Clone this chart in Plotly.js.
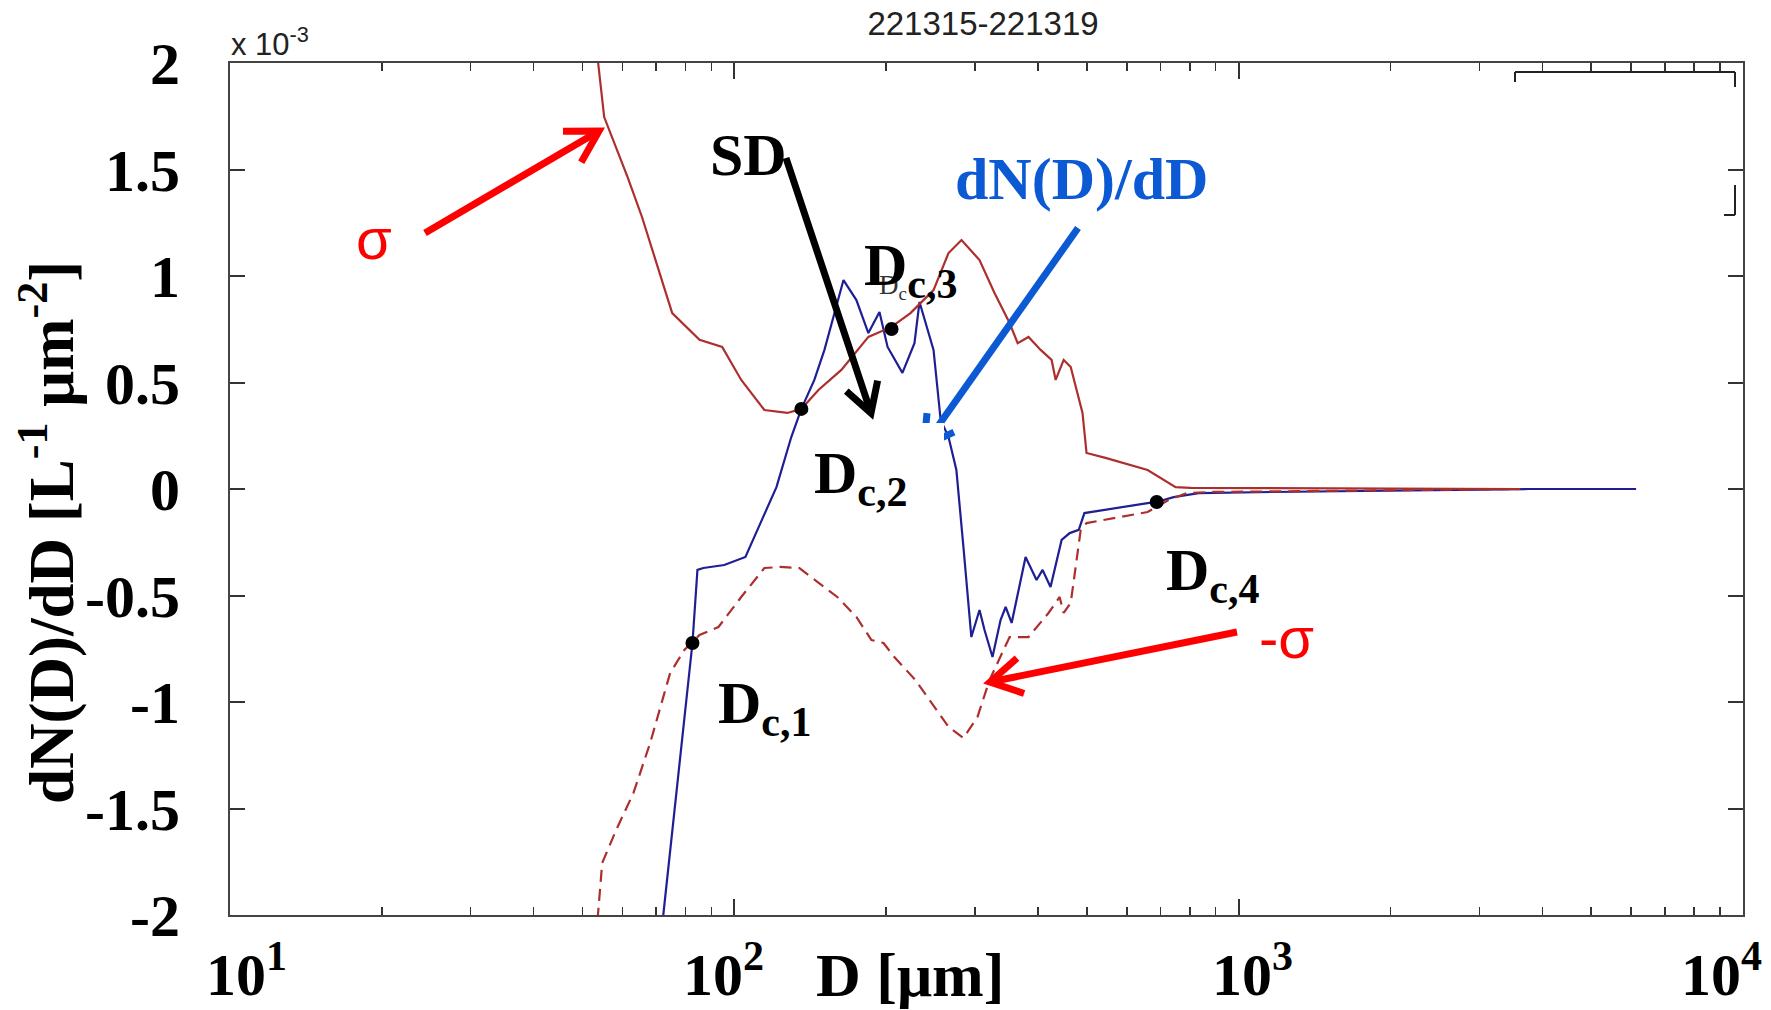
<!DOCTYPE html>
<html><head><meta charset="utf-8">
<script src="https://cdn.plot.ly/plotly-3.0.1.min.js"></script>
<style>html,body{margin:0;padding:0;background:#fff;}#chart{width:1771px;height:1010px;}</style>
</head><body><div id="chart"></div>
<script>
// ---- data (y values in units of 1e-3 L^-1 um^-2, D in um) ----
const sigmaD = [52.2, 53.7, 55.2, 61.4, 65.6, 75.3, 85.3, 94.6, 103.2, 114.7, 127.4, 135.8, 146.8, 163.0, 184.4, 204.9, 223.5, 248.3, 265.9, 282.1, 306.3, 328.0, 351.4, 364.6, 383.1, 404.9, 425.7, 433.6, 449.8, 464.5, 490.2, 499.3, 544.4, 659.9, 749.8, 803.5, 3614];
const sigmaVal = [2.3, 2.0, 1.746, 1.465, 1.277, 0.826, 0.700, 0.667, 0.512, 0.371, 0.357, 0.376, 0.465, 0.559, 0.714, 0.761, 0.826, 0.934, 1.108, 1.169, 1.075, 0.920, 0.779, 0.685, 0.714, 0.653, 0.606, 0.512, 0.606, 0.573, 0.357, 0.169, 0.146, 0.089, 0.009, 0.005, 0];

const negSigmaD = [52.8, 53.7, 54.7, 58.3, 63.1, 68.1, 74.6, 79.6, 85.3, 93.0, 103.2, 114.7, 123.4, 134.6, 146.8, 160.0, 174.6, 187.0, 197.6, 207.6, 228.6, 245.9, 265.9, 284.6, 303.5, 320.6, 351.4, 383.1, 419.7, 441.6, 449.8, 464.5, 486.2, 499.3, 659.9, 726.0, 788.6, 883.6, 3614];
const negSigmaVal = [-2.2, -1.991, -1.756, -1.601, -1.427, -1.192, -0.864, -0.756, -0.685, -0.648, -0.507, -0.371, -0.366, -0.371, -0.441, -0.507, -0.601, -0.709, -0.723, -0.789, -0.897, -1.005, -1.117, -1.169, -1.070, -0.897, -0.695, -0.695, -0.582, -0.507, -0.582, -0.535, -0.192, -0.160, -0.108, -0.052, -0.019, -0.014, 0];

const dndD = [70.6, 72.3, 82.6, 84.5, 86.8, 95.5, 105.2, 111.1, 121.2, 129.7, 135.8, 144.1, 150.9, 164.6, 174.6, 184.4, 194.0, 201.3, 215.4, 227.6, 232.9, 248.3, 256.5, 265.9, 275.6, 284.6, 295.1, 306.3, 313.4, 325.0, 337.2, 345.1, 354.7, 378.0, 397.4, 408.5, 423.6, 445.6, 462.4, 481.9, 494.5, 659.9, 687.8, 743.0, 833.1, 1163, 3757, 6138];
const dndVal = [-2.2, -2.0, -0.723, -0.380, -0.371, -0.357, -0.319, -0.192, 0.009, 0.244, 0.376, 0.512, 0.653, 0.981, 0.887, 0.732, 0.831, 0.667, 0.545, 0.685, 0.878, 0.653, 0.324, 0.244, 0.089, -0.272, -0.695, -0.568, -0.662, -0.789, -0.615, -0.554, -0.629, -0.319, -0.427, -0.380, -0.460, -0.239, -0.207, -0.192, -0.113, -0.066, -0.061, -0.038, -0.019, -0.014, 0, 0];

const dcD = [82.6, 135.8, 205, 687.8];
const dcVal = [-0.723, 0.376, 0.751, -0.061];
const dcNames = ["D<sub>c,1</sub>", "D<sub>c,2</sub>", "D<sub>c,3</sub>", "D<sub>c,4</sub>"];

const xTickVals = [10, 100, 1000, 10000];
const xTickText = ["10<sup>1</sup>", "10<sup>2</sup>", "10<sup>3</sup>", "10<sup>4</sup>"];
const yTickVals = [-2, -1.5, -1, -0.5, 0, 0.5, 1, 1.5, 2];
const yTickText = ["-2", "-1.5", "-1", "-0.5", "0", "0.5", "1", "1.5", "2"];

const titleText = "221315-221319";
const xTitle = "D [μm]";
const yTitle = "dN(D)/dD [L<sup>-1</sup> μm<sup>-2</sup>]";

// ---- layout geometry ----
const W = 1771, H = 1010, ML = 230, MR = 28, MT = 63, MB = 95;
const PW = W - ML - MR, PH = H - MT - MB;
const px = x => (x - ML) / PW;
const py = y => (H - MB - y) / PH;

const SERIF = "Liberation Serif, Times New Roman, serif";
const SANS = "Liberation Sans, Arial, sans-serif";
const SIGCOL = "#ad2f2d";
const BLUE = "#1f1f94";
const ABLUE = "#0b5ad4";

function arrow(x1, y1, x2, y2, color, width, head) {
  const dx = x2 - x1, dy = y2 - y1, len = Math.hypot(dx, dy);
  const bx = -dx / len, by = -dy / len, a = Math.PI / 6;
  const pts = [1, -1].map(s => {
    const c = Math.cos(a), sn = Math.sin(a) * s;
    return [x2 + (bx * c - by * sn) * head, y2 + (bx * sn + by * c) * head];
  });
  return [
    {type: 'line', xref: 'paper', yref: 'paper', x0: px(x1), y0: py(y1), x1: px(x2), y1: py(y2), line: {color, width}, layer: 'above'},
    {type: 'path', xref: 'paper', yref: 'paper', layer: 'above', line: {color, width},
     path: `M${px(pts[0][0])},${py(pts[0][1])}L${px(x2)},${py(y2)}L${px(pts[1][0])},${py(pts[1][1])}`}
  ];
}
function seg(x1, y1, x2, y2) {
  return {type: 'line', xref: 'paper', yref: 'paper', x0: px(x1), y0: py(y1), x1: px(x2), y1: py(y2), line: {color: '#222', width: 2}, layer: 'above'};
}

const minorVals = [];
[10, 100, 1000].forEach(d => { for (let k = 2; k <= 9; k++) minorVals.push(k * d); });

const traces = [
  {x: dndD, y: dndVal, type: 'scatter', mode: 'lines', name: 'dN(D)/dD', line: {color: BLUE, width: 2.2}},
  {x: negSigmaD, y: negSigmaVal, type: 'scatter', mode: 'lines', name: '-σ', line: {color: SIGCOL, width: 2.2, dash: '12px,7px'}},
  {x: sigmaD, y: sigmaVal, type: 'scatter', mode: 'lines', name: 'σ', line: {color: SIGCOL, width: 2.2}},
  {x: dcD, y: dcVal, type: 'scatter', mode: 'markers', name: 'Dc', marker: {color: '#000', size: 14}}
];

const shapes = [].concat(
  arrow(425, 233, 599, 131, '#ff0000', 7, 36),
  arrow(786, 158, 871, 413, '#000000', 7, 33),
  arrow(1078, 228, 924, 446, ABLUE, 7, 33),
  arrow(1237, 632, 990, 682, '#ff0000', 7, 36),
  [{type: 'rect', xref: 'paper', yref: 'paper', x0: px(801), x1: px(944), y0: py(423), y1: py(547), fillcolor: '#fff', line: {width: 0}, layer: 'above'}],
  [seg(1515, 72, 1735, 72), seg(1515, 72, 1515, 82), seg(1735, 72, 1735, 87), seg(1735, 185, 1735, 215), seg(1724, 215, 1735, 215)]
);

const big = {family: SERIF, size: 60, color: '#000', weight: 'bold'};
const xShift = [16, -11, 14, -22];
const annotations = [
  {text: yTitle, textangle: -90, xref: 'paper', yref: 'paper', x: px(47), y: py(533), xanchor: 'center', yanchor: 'middle', showarrow: false, font: {family: SERIF, size: 63, color: '#000', weight: 'bold'}},
  {text: xTitle, xref: 'paper', yref: 'paper', x: px(910), y: py(975), xanchor: 'center', yanchor: 'middle', showarrow: false, font: {family: SERIF, size: 62, color: '#000', weight: 'bold'}},
  {text: 'x 10<sup>-3</sup>', xref: 'paper', yref: 'paper', x: px(229), y: py(64), xanchor: 'left', yanchor: 'bottom', showarrow: false, font: {family: SANS, size: 31, color: '#222'}},
  {text: 'SD', xref: 'paper', yref: 'paper', x: px(748), y: py(155), xanchor: 'center', yanchor: 'middle', showarrow: false, font: big},
  {text: 'dN(D)/dD', xref: 'paper', yref: 'paper', x: px(1081), y: py(179), xanchor: 'center', yanchor: 'middle', showarrow: false, font: {family: SERIF, size: 60, color: ABLUE, weight: 'bold'}},
  {text: 'σ', xref: 'paper', yref: 'paper', x: px(374), y: py(238), xanchor: 'center', yanchor: 'middle', showarrow: false, font: {family: SANS, size: 58, color: '#ff0000'}},
  {text: '-σ', xref: 'paper', yref: 'paper', x: px(1286), y: py(637), xanchor: 'center', yanchor: 'middle', showarrow: false, font: {family: SANS, size: 58, color: '#ff0000'}},
  {text: dcNames[0], xref: 'paper', yref: 'paper', x: px(716), y: py(707), xanchor: 'left', yanchor: 'middle', showarrow: false, font: big},
  {text: dcNames[1], xref: 'paper', yref: 'paper', x: px(812), y: py(477), xanchor: 'left', yanchor: 'middle', showarrow: false, font: big},
  {text: 'D<sub>c</sub>', xref: 'paper', yref: 'paper', x: px(877), y: py(287), xanchor: 'left', yanchor: 'middle', showarrow: false, font: {family: SERIF, size: 27, color: '#333'}},
  {text: dcNames[2], xref: 'paper', yref: 'paper', x: px(862), y: py(269), xanchor: 'left', yanchor: 'middle', showarrow: false, font: big},
  {text: dcNames[3], xref: 'paper', yref: 'paper', x: px(1164), y: py(574), xanchor: 'left', yanchor: 'middle', showarrow: false, font: big}
];
xTickVals.forEach((v, i) => annotations.push({
  text: xTickText[i], xref: 'x', yref: 'paper', x: Math.log10(v), xshift: xShift[i], y: py(970),
  xanchor: 'center', yanchor: 'middle', showarrow: false, font: big
}));

const layout = {
  width: W, height: H,
  margin: {l: ML, r: MR, t: MT, b: MB, pad: 0},
  paper_bgcolor: '#fff', plot_bgcolor: '#fff',
  showlegend: false,
  title: {text: titleText, font: {family: SANS, size: 33, color: '#222'}, xref: 'paper', x: px(983), xanchor: 'center', yref: 'container', y: 1 - 23 / H, yanchor: 'middle'},
  xaxis: {
    type: 'log', range: [1, 4], tickmode: 'array', tickvals: xTickVals, showticklabels: false,
    ticks: 'inside', ticklen: 16, tickwidth: 2, tickcolor: '#333',
    showline: true, linecolor: '#444', linewidth: 2, mirror: 'ticks', showgrid: false, zeroline: false,
    minor: {tickmode: 'array', tickvals: minorVals, ticks: 'inside', ticklen: 8, tickwidth: 1.5, tickcolor: '#333', showgrid: false}
  },
  yaxis: {
    range: [-2, 2], tickmode: 'array', tickvals: yTickVals, ticktext: yTickText,
    ticks: 'inside', ticklen: 15, tickwidth: 2, tickcolor: '#333',
    showline: true, linecolor: '#444', linewidth: 2, mirror: 'ticks', showgrid: false, zeroline: false,
    tickfont: {family: SERIF, size: 60, color: '#000', weight: 'bold'}, ticklabelstandoff: 36
  },
  shapes, annotations
};

Plotly.newPlot('chart', traces, layout, {displayModeBar: false, staticPlot: true});
</script></body></html>
